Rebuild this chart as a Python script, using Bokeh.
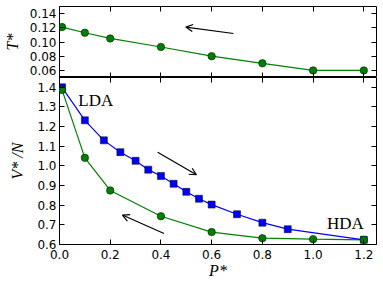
from bokeh.plotting import figure
from bokeh.models import (Range1d, LinearAxis, FixedTicker, Arrow, OpenHead, Label,
                          CustomLabelingPolicy, NumeralTickFormatter)
from bokeh.layouts import column
from bokeh.embed import file_html
from bokeh.resources import INLINE

# Top panel: T* vs P*
p_top_vals = [0.01, 0.1, 0.2, 0.4, 0.6, 0.8, 1.0, 1.2]
t_top_vals = [0.121, 0.113, 0.105, 0.093, 0.080, 0.070, 0.060, 0.060]

# Bottom panel: V*/N vs P*
p_comp = [0.01, 0.1, 0.175, 0.24, 0.3, 0.35, 0.4, 0.45, 0.5, 0.55, 0.6, 0.7, 0.8, 0.9, 1.2]
v_comp = [1.40, 1.232, 1.13, 1.07, 1.026, 0.981, 0.949, 0.909, 0.868, 0.833, 0.803, 0.754, 0.711, 0.678, 0.624]
p_decomp = [0.01, 0.1, 0.2, 0.4, 0.6, 0.8, 1.0, 1.2]
v_decomp = [1.387, 1.041, 0.875, 0.744, 0.663, 0.632, 0.627, 0.624]

x_ticks = [0.0, 0.2, 0.4, 0.6, 0.8, 1.0, 1.2]
top_y_ticks = [0.06, 0.08, 0.10, 0.12, 0.14]
bot_y_ticks = [0.6, 0.7, 0.8, 0.9, 1.0, 1.1, 1.2, 1.3, 1.4]

# arrows (x_start, y_start, x_end, y_end)
top_arrow = (0.686, 0.112, 0.498, 0.121)
bot_arrows = [(0.387, 1.07, 0.540, 0.955), (0.412, 0.656, 0.248, 0.75)]

GREEN = "#008000"
BLUE = "#0000ff"
TICK_FONT = "DejaVu Sans"
SERIF = "Liberation Serif"

HIDE_ALL = """
for (const i of indices) { indices.unset(i) }
return indices
"""


def style_axis(ax, ticks, labels=True, fmt="0.0"):
    ax.ticker = FixedTicker(ticks=ticks)
    ax.major_tick_in = 5
    ax.major_tick_out = 0
    ax.major_tick_line_color = "black"
    ax.minor_tick_line_color = None
    ax.axis_line_color = None
    ax.major_label_text_font = TICK_FONT
    ax.major_label_text_color = "black"
    ax.formatter = NumeralTickFormatter(format=fmt)
    if labels:
        ax.major_label_text_font_size = "12px"
        ax.major_label_standoff = 3
    else:
        ax.major_label_text_font_size = "0px"
        ax.major_label_policy = CustomLabelingPolicy(code=HIDE_ALL)
        ax.major_label_standoff = 0
    ax.axis_label_text_font = SERIF
    ax.axis_label_text_font_style = "italic"
    ax.axis_label_text_font_size = "16px"
    ax.axis_label_text_color = "black"
    ax.axis_label_standoff = 2


def make_fig(height, yr, top_border, bottom_border):
    p = figure(width=383, height=height, x_range=Range1d(0, 1.25), y_range=yr,
               output_backend="svg", toolbar_location=None,
               min_border_left=59, min_border_right=7, min_border_top=top_border,
               min_border_bottom=bottom_border)
    p.xgrid.visible = False
    p.ygrid.visible = False
    p.outline_line_color = "black"
    p.outline_line_width = 1
    p.outline_line_alpha = 1
    p.background_fill_color = "white"
    p.border_fill_color = "white"
    return p


# ---------- top ----------
pt = make_fig(77, Range1d(0.05, 0.15), 6, 0)
style_axis(pt.xaxis[0], x_ticks, labels=False)
style_axis(pt.yaxis[0], top_y_ticks, fmt="0.00")
pt.yaxis[0].axis_label = "T*"
pt.yaxis[0].axis_label_standoff = 6
ax = LinearAxis(); style_axis(ax, x_ticks, labels=False); pt.add_layout(ax, "above")
ax = LinearAxis(); style_axis(ax, top_y_ticks, labels=False); pt.add_layout(ax, "right")

pt.line(p_top_vals, t_top_vals, line_color=GREEN, line_width=1.2)
pt.scatter(p_top_vals, t_top_vals, marker="circle", size=7.5, fill_color=GREEN,
           line_color="black", line_width=0.5)
pt.add_layout(Arrow(end=OpenHead(size=7, line_width=1.2, line_color="black"),
                    x_start=top_arrow[0], y_start=top_arrow[1],
                    x_end=top_arrow[2], y_end=top_arrow[3],
                    line_width=1.2, line_color="black"))

# ---------- bottom ----------
pb = make_fig(210, Range1d(0.6, 1.45), 0, 43)
style_axis(pb.xaxis[0], x_ticks)
pb.xaxis[0].axis_label = "P*"
pb.xaxis[0].axis_label_standoff = 0
pb.xaxis[0].major_label_standoff = 5
style_axis(pb.yaxis[0], bot_y_ticks)
pb.yaxis[0].axis_label = "V* /N"
pb.yaxis[0].axis_label_standoff = 8
ax = LinearAxis(); style_axis(ax, x_ticks, labels=False); pb.add_layout(ax, "above")
ax = LinearAxis(); style_axis(ax, bot_y_ticks, labels=False); pb.add_layout(ax, "right")

pb.line(p_decomp, v_decomp, line_color=GREEN, line_width=1.2)
pb.line(p_comp, v_comp, line_color=BLUE, line_width=1.2)
pb.scatter(p_comp, v_comp, marker="square", size=7, fill_color=BLUE,
           line_color="black", line_width=0.5)
pb.scatter(p_decomp, v_decomp, marker="circle", size=7.5, fill_color=GREEN,
           line_color="black", line_width=0.5)
for a in bot_arrows:
    pb.add_layout(Arrow(end=OpenHead(size=7, line_width=1.2, line_color="black"),
                        x_start=a[0], y_start=a[1], x_end=a[2], y_end=a[3],
                        line_width=1.2, line_color="black"))

pb.add_layout(Label(x=0.074, y=1.331, text="LDA", text_font=SERIF, text_font_size="17px",
                    text_baseline="middle", text_align="left", text_color="black"))
pb.add_layout(Label(x=1.2, y=0.708, text="HDA", text_font=SERIF, text_font_size="17px",
                    text_baseline="middle", text_align="right", text_color="black"))

layout = column(pt, pb, spacing=0)
open("out.html", "w").write(file_html(layout, INLINE))
